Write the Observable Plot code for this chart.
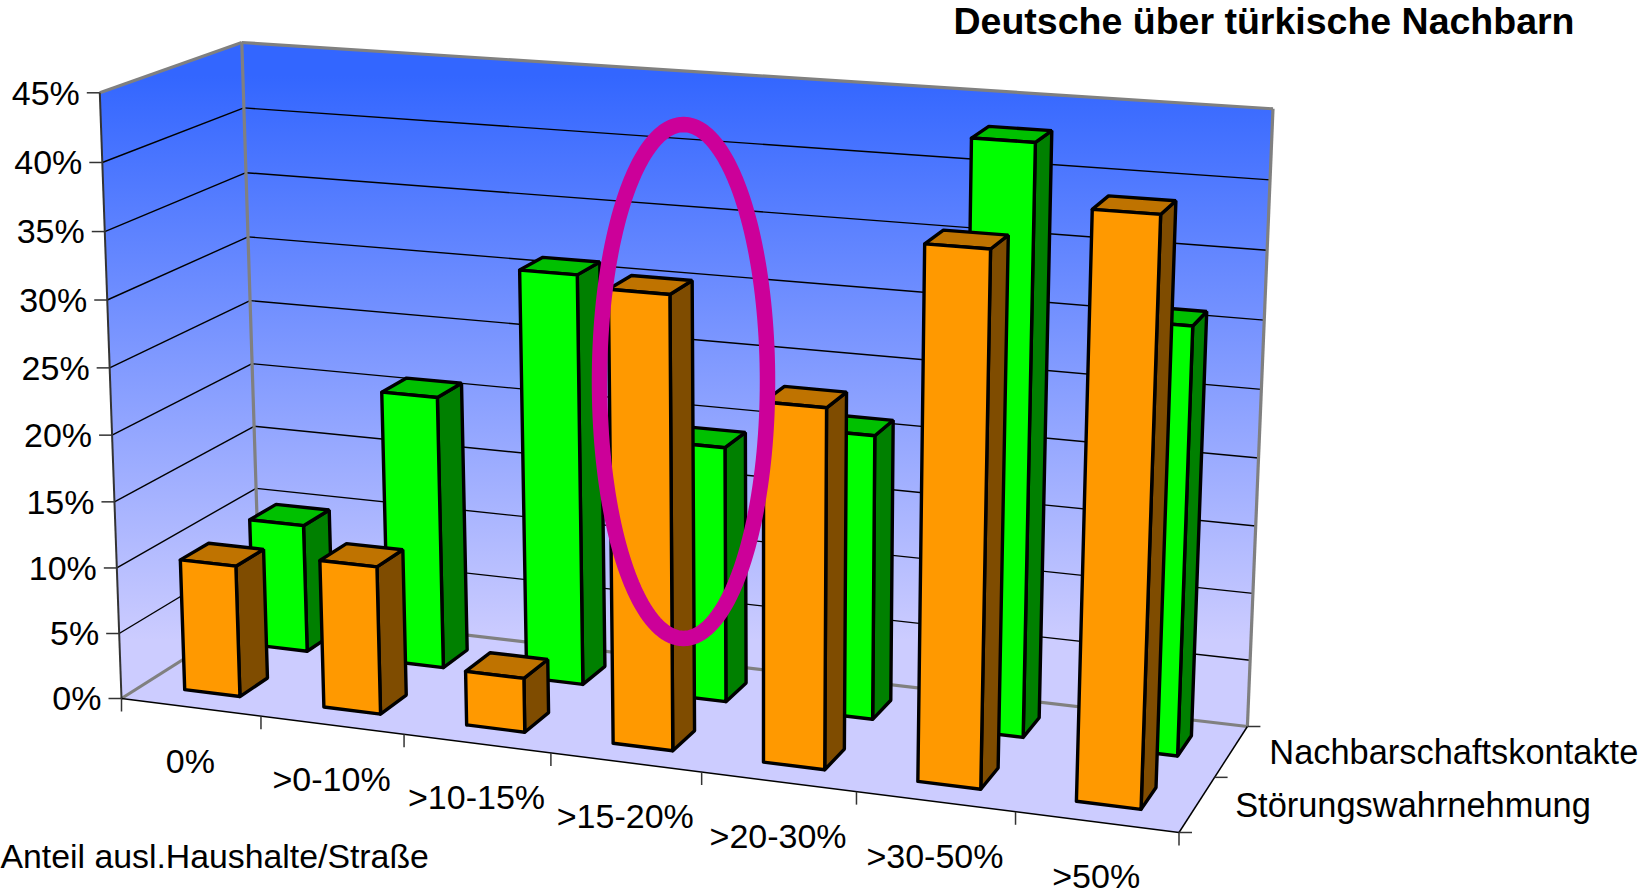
<!DOCTYPE html>
<html lang="de">
<head>
<meta charset="utf-8">
<script src="https://cdn.jsdelivr.net/npm/d3@7"></script>
<script src="https://cdn.jsdelivr.net/npm/@observablehq/plot@0.6"></script>
<style>
html,body{margin:0;padding:0;background:#fff;overflow:hidden}
svg{display:block}
</style>
</head>
<body>
<div id="chart"></div>
<script>
// ---- chart data ----
const categories = ["0%", ">0-10%", ">10-15%", ">15-20%", ">20-30%", ">30-50%", ">50%"];
const seriesNames = ["Störungswahrnehmung", "Nachbarschaftskontakte"];
const stoerung = [10, 11.15, 4.05, 33.05, 26.05, 38, 41.2];
const kontakte = [9.95, 20.95, 31.1, 19.25, 21.2, 43.1, 31.1];
const valueTicks = [0, 5, 10, 15, 20, 25, 30, 35, 40, 45];
const chartTitle = "Deutsche über türkische Nachbarn";
const axisTitle = "Anteil ausl.Haushalte/Straße";

// ---- 3-D camera: the chart box as seen on the page ----
const W = 1639, H = 892, vMax = 45, nCat = categories.length;
const floorQuad = [[121, 698], [1178.5, 832], [1246.9, 726], [259.5, 610.3]];
const topQuad = [[99.3, 92.3], [1203, 170.5], [1272.5, 108.3], [241.3, 42]];
const persp = 0.04;

function homography([p0, p1, p2, p3]) {
  const dx1 = p1[0] - p2[0], dx2 = p3[0] - p2[0], sx = p0[0] - p1[0] + p2[0] - p3[0];
  const dy1 = p1[1] - p2[1], dy2 = p3[1] - p2[1], sy = p0[1] - p1[1] + p2[1] - p3[1];
  const den = dx1 * dy2 - dx2 * dy1;
  const g = (sx * dy2 - dx2 * sy) / den, h = (dx1 * sy - sx * dy1) / den;
  const a = p1[0] - p0[0] + g * p1[0], b = p3[0] - p0[0] + h * p3[0], c = p0[0];
  const d = p1[1] - p0[1] + g * p1[1], e = p3[1] - p0[1] + h * p3[1], f = p0[1];
  return (u, v) => {
    const q = g * u + h * v + 1;
    return [(a * u + b * v + c) / q, (d * u + e * v + f) / q];
  };
}
const floorH = homography(floorQuad), topH = homography(topQuad);
// u: category position, v: depth 0 (front) .. 1 (back), w: value in %
function project(u, v, w) {
  const a = floorH(u / nCat, v), b = topH(u / nCat, v);
  const t = w / vMax, s = t / (1 + persp * (1 - t));
  return [a[0] + (b[0] - a[0]) * s, a[1] + (b[1] - a[1]) * s];
}
const pt = (u, v, w) => { const [x, y] = project(u, v, w); return {x, y}; };
const seg = (a, b) => { const p = project(...a), q = project(...b); return {x1: p[0], y1: p[1], x2: q[0], y2: q[1]}; };

// ---- faces ----
const palette = [
  {front: "#ff9900", side: "#7f4c00", top: "#bf7300"},
  {front: "#00ff00", side: "#008000", top: "#00c000"}
];
function barFaces(i, row, value, key) {
  const u0 = i + 0.3, u1 = i + 0.7, v0 = row * 0.5 + 0.15, v1 = row * 0.5 + 0.35, c = palette[row];
  const quad = (name, fill, pts) => [...pts, pts[0]].map(p => ({...pt(...p), id: key + name, fill}));
  return [
    ...quad("s", c.side, [[u1, v0, 0], [u1, v1, 0], [u1, v1, value], [u1, v0, value]]),
    ...quad("t", c.top, [[u0, v0, value], [u1, v0, value], [u1, v1, value], [u0, v1, value]]),
    ...quad("f", c.front, [[u0, v0, 0], [u1, v0, 0], [u1, v0, value], [u0, v0, value]])
  ];
}
const faces = [
  ...kontakte.flatMap((d, i) => barFaces(i, 1, d, "k" + i)),
  ...stoerung.flatMap((d, i) => barFaces(i, 0, d, "s" + i))
];
const closed = pts => [...pts, pts[0]].map(p => pt(...p));
const leftWall = closed([[0, 0, 0], [0, 1, 0], [0, 1, vMax], [0, 0, vMax]]);
const backWall = closed([[0, 1, 0], [nCat, 1, 0], [nCat, 1, vMax], [0, 1, vMax]]);
const floor = closed([[0, 0, 0], [nCat, 0, 0], [nCat, 1, 0], [0, 1, 0]]);

const gridValues = valueTicks.filter(d => d > 0 && d < vMax);
const gridLines = gridValues.flatMap(w => [seg([0, 0, w], [0, 1, w]), seg([0, 1, w], [nCat, 1, w])]);
const grayEdges = [
  seg([0, 0, vMax], [0, 1, vMax]), seg([0, 1, vMax], [nCat, 1, vMax]),
  seg([0, 1, 0], [0, 1, vMax]), seg([nCat, 1, 0], [nCat, 1, vMax]),
  seg([0, 0, 0], [0, 1, 0]), seg([0, 1, 0], [nCat, 1, 0])
];
const blackEdges = [seg([0, 0, 0], [nCat, 0, 0]), seg([nCat, 0, 0], [nCat, 1, 0])];

const catBounds = d3.range(nCat + 1).map(u => pt(u, 0, 0));
const depthBounds = [0, 0.5, 1].map(v => pt(nCat, v, 0));
const valuePts = valueTicks.map(w => ({...pt(0, 0, w), label: w + "%"}));
const catPts = categories.map((label, i) => ({...pt(i + 0.5, 0, 0), label}));
const seriesPts = seriesNames.map((label, r) => ({...pt(nCat, r * 0.5 + 0.25, 0), label}));

// annotation ring around the >15-20% column
const ring = {cx: 683, cy: 381, rx: 84, ry: 257};
const ringPts = d3.range(0, 181).map(k => {
  const a = k / 180 * 2 * Math.PI;
  return {x: ring.cx + ring.rx * Math.cos(a), y: ring.cy + ring.ry * Math.sin(a)};
});

const gradientDefs = () => {
  const svg = d3.create("svg:defs");
  const g = svg.append("linearGradient").attr("id", "wall").attr("gradientUnits", "userSpaceOnUse")
    .attr("x1", 0).attr("x2", 0).attr("y1", 75).attr("y2", 640);
  g.append("stop").attr("offset", 0).attr("stop-color", "#3366ff");
  g.append("stop").attr("offset", 1).attr("stop-color", "#ccccff");
  return svg.node();
};

const font = {fontSize: 34, fill: "#000"};
const chart = Plot.plot({
  width: W, height: H,
  margin: 0,
  x: {domain: [0, W], range: [0, W], axis: null},
  y: {domain: [0, H], range: [0, H], axis: null},
  color: {type: "identity"},
  style: {fontFamily: "'Liberation Sans', Arial, sans-serif", background: "#fff"},
  marks: [
    gradientDefs,
    Plot.line(floor, {x: "x", y: "y", fill: "#ccccff", stroke: "none"}),
    Plot.line(leftWall, {x: "x", y: "y", fill: "url(#wall)", stroke: "none"}),
    Plot.line(backWall, {x: "x", y: "y", fill: "url(#wall)", stroke: "none"}),
    Plot.link(gridLines, {x1: "x1", y1: "y1", x2: "x2", y2: "y2", stroke: "#000", strokeWidth: 1.4}),
    Plot.link(grayEdges, {x1: "x1", y1: "y1", x2: "x2", y2: "y2", stroke: "#808080", strokeWidth: 3.2}),
    Plot.link([seg([0, 0, 0], [0, 0, vMax])], {x1: "x1", y1: "y1", x2: "x2", y2: "y2", stroke: "#333", strokeWidth: 2}),
    Plot.link(blackEdges, {x1: "x1", y1: "y1", x2: "x2", y2: "y2", stroke: "#000", strokeWidth: 1.5}),
    // axis ticks
    Plot.link(valuePts, {x1: "x", y1: "y", x2: d => d.x - 13, y2: "y", stroke: "#333", strokeWidth: 1.5}),
    Plot.link(catBounds, {x1: "x", y1: "y", x2: "x", y2: d => d.y + 13, stroke: "#333", strokeWidth: 1.5}),
    Plot.link(depthBounds, {x1: "x", y1: "y", x2: d => d.x + 13, y2: "y", stroke: "#333", strokeWidth: 1.5}),
    // bars
    Plot.line(faces, {x: "x", y: "y", z: "id", fill: "fill", stroke: "#000", strokeWidth: 3.4, strokeLinejoin: "miter"}),
    // ring
    Plot.line(ringPts, {x: "x", y: "y", stroke: "#cc0099", strokeWidth: 15.5, fill: "none"}),
    // text
    Plot.text(valuePts, {x: "x", y: "y", text: "label", textAnchor: "end", dx: -20, dy: 1, ...font}),
    Plot.text(catPts, {x: "x", y: "y", text: "label", dx: -0.5, dy: 55, ...font}),
    Plot.text(seriesPts, {x: "x", y: "y", text: "label", textAnchor: "start", dx: 38, dy: 1.5, ...font, fontSize: 34.4}),
    Plot.text([axisTitle], {x: 0, y: 857, text: d => d, textAnchor: "start", ...font, fontSize: 33.8}),
    Plot.text([chartTitle], {x: 953, y: 21, text: d => d, textAnchor: "start", fontWeight: "bold", fontSize: 37.5, fill: "#000"})
  ]
});
document.getElementById("chart").append(chart);
</script>
</body>
</html>
